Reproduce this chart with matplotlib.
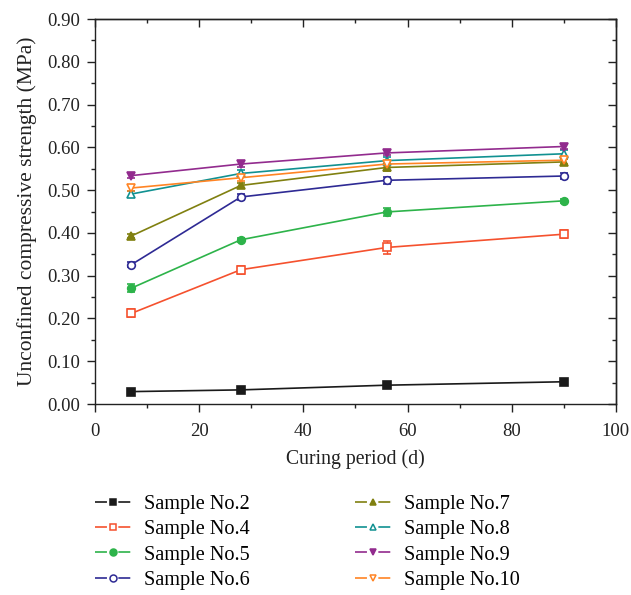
import matplotlib
matplotlib.use("Agg")
import matplotlib.pyplot as plt
from matplotlib.lines import Line2D
from matplotlib.ticker import MultipleLocator, FormatStrFormatter, NullFormatter

plt.rcParams['font.family'] = ['Liberation Serif', 'DejaVu Serif']
plt.rcParams['lines.scale_dashes'] = False

days = [7, 28, 56, 90]

labels = ["Sample No.2", "Sample No.4", "Sample No.5", "Sample No.6",
          "Sample No.7", "Sample No.8", "Sample No.9", "Sample No.10"]

no2 = [0.029, 0.033, 0.044, 0.052]
no4 = [0.212, 0.314, 0.366, 0.397]
no5 = [0.271, 0.384, 0.449, 0.475]
no6 = [0.326, 0.484, 0.523, 0.533]
no7 = [0.393, 0.511, 0.553, 0.566]
no8 = [0.491, 0.539, 0.569, 0.585]
no9 = [0.534, 0.561, 0.587, 0.602]
no10 = [0.505, 0.529, 0.561, 0.570]

err2 = [0.003, 0.003, 0.003, 0.004]
err4 = [0.009, 0.009, 0.015, 0.010]
err5 = [0.010, 0.005, 0.009, 0.005]
err6 = [0.005, 0.006, 0.008, 0.008]
err7 = [0.004, 0.006, 0.008, 0.006]
err8 = [0.006, 0.008, 0.008, 0.008]
err9 = [0.006, 0.006, 0.006, 0.006]
err10 = [0.008, 0.008, 0.008, 0.008]

series = [no2, no4, no5, no6, no7, no8, no9, no10]
errors = [err2, err4, err5, err6, err7, err8, err9, err10]
colors = ["#1a1a1a", "#f5512e", "#2db34a", "#2e2a94",
          "#808010", "#119191", "#922b8e", "#ff8424"]
markers = ["s", "s", "o", "o", "^", "^", "v", "v"]
filled = [True, False, True, False, True, False, True, False]

ink = '#222222'

fig = plt.figure(figsize=(6.31, 5.95), dpi=100)
ax = fig.add_axes([0.1506, 0.321, 0.8254, 0.647])

handles = []
for vals, err, c, m, f, lab in zip(series, errors, colors, markers, filled, labels):
    face = c if f else "white"
    ax.errorbar(days, vals, yerr=err, color=c, marker=m, markersize=5.5,
                markerfacecolor=face, markeredgecolor=c,
                markeredgewidth=1.2, linewidth=1.2, elinewidth=1.0,
                capsize=3, capthick=1.0, label=lab)
    # legend key: line broken around the symbol
    seg = Line2D([], [], color=c, linewidth=1.2,
                 linestyle=(0, (8.6, 8.2, 8.6, 60)))
    sym = Line2D([], [], color=c, linestyle='none', marker=m, markersize=5,
                 markerfacecolor=face, markeredgecolor=c, markeredgewidth=1.1)
    handles.append((seg, sym))

ax.set_xlim(0, 100)
ax.set_ylim(0, 0.9)
ax.xaxis.set_major_locator(MultipleLocator(20))
ax.xaxis.set_minor_locator(MultipleLocator(10))
ax.yaxis.set_major_locator(MultipleLocator(0.1))
ax.yaxis.set_minor_locator(MultipleLocator(0.05))
ax.yaxis.set_major_formatter(FormatStrFormatter('%.2f'))
ax.tick_params(which='both', direction='out', labelsize=13.5, colors=ink,
               width=1.0)
ax.tick_params(which='major', length=6)
ax.tick_params(which='minor', length=3)
ax.tick_params(axis='x', which='major', pad=8)
ax.tick_params(axis='y', which='major', pad=5)
for s in ax.spines.values():
    s.set_linewidth(1.0)
    s.set_color(ink)

# mirrored axes on top and right with inward ticks
top = ax.secondary_xaxis('top')
right = ax.secondary_yaxis('right')
for sec in (top, right):
    sec.tick_params(which='both', direction='in', colors=ink, width=1.0)
    sec.tick_params(which='major', length=6)
    sec.tick_params(which='minor', length=3)
    for s in sec.spines.values():
        s.set_linewidth(1.0)
        s.set_color(ink)
top.xaxis.set_major_locator(MultipleLocator(20))
top.xaxis.set_minor_locator(MultipleLocator(10))
top.xaxis.set_major_formatter(NullFormatter())
right.yaxis.set_major_locator(MultipleLocator(0.1))
right.yaxis.set_minor_locator(MultipleLocator(0.05))
right.yaxis.set_major_formatter(NullFormatter())

ax.set_xlabel("Curing period (d)", fontsize=14.2, color=ink, labelpad=6)
ax.set_ylabel("Unconfined compressive strength (MPa)", fontsize=15.5,
              color=ink, labelpad=7)

fig.legend(handles=handles, labels=labels, ncol=2, frameon=False,
           loc='upper left', bbox_to_anchor=(0.138, 0.182),
           fontsize=14.6, handlelength=1.75, handletextpad=0.65,
           columnspacing=5.2, labelspacing=0.3, borderaxespad=0)

fig.savefig("out.png", dpi=100)
